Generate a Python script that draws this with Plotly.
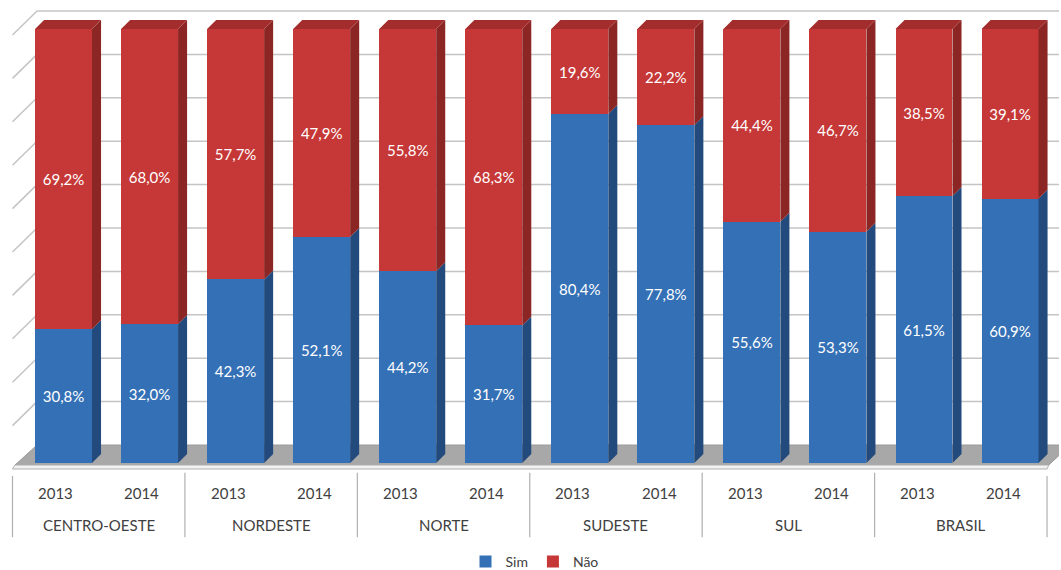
import plotly.graph_objects as go

regions = ["CENTRO-OESTE", "NORDESTE", "NORTE", "SUDESTE", "SUL", "BRASIL"]
years = ["2013", "2014"]
sim = [30.8, 32.0, 42.3, 52.1, 44.2, 31.7, 80.4, 77.8, 55.6, 53.3, 61.5, 60.9]
nao = [69.2, 68.0, 57.7, 47.9, 55.8, 68.3, 19.6, 22.2, 44.4, 46.7, 38.5, 39.1]
grid_values = list(range(0, 101, 10))

BLUE = "#3470b6"
BLUE_SIDE = "#224a7c"
RED = "#c63837"
RED_SIDE = "#8c2625"
RED_TOP = "#a22d2c"
FONT = "Lato"
TXT = "#404040"

n = len(sim)
xs = list(range(n))
W = 0.662           # bar width (category units)
DX, DY = 0.105, 2.07  # bar depth offsets
WDX, WDY = 0.285, 5.53  # wall depth offsets
XL, XR = -0.593, 11.43  # front box edges
Y0F = -1.38

def fmt(v):
    return f"{v:.1f}".replace(".", ",") + "%"

fig = go.Figure()
fig.add_trace(go.Bar(x=xs, y=sim, width=W, name="Sim", marker=dict(color=BLUE, line=dict(width=0)),
                     text=[fmt(v) for v in sim], textposition="inside", insidetextanchor="middle",
                     textangle=0, constraintext="none",
                     textfont=dict(color="white", size=15, family=FONT)))
fig.add_trace(go.Bar(x=xs, y=nao, width=W, name="Não", marker=dict(color=RED, line=dict(width=0)),
                     text=[fmt(v) for v in nao], textposition="inside", insidetextanchor="middle",
                     textangle=0, constraintext="none",
                     textfont=dict(color="white", size=15, family=FONT)))

shapes = []
# floor
shapes.append(dict(type="path", xref="x", yref="y", layer="below",
                   path=f"M {XL+0.03},-0.46 L {XL+WDX},{WDY-1.38} L 11.7,{WDY-1.38} L {XR+0.02},-0.46 Z",
                   fillcolor="#a8a8a8", line=dict(color="#9a9a9a", width=1)))
shapes.append(dict(type="path", xref="x", yref="y", layer="below",
                   path=f"M {XL},{Y0F} L {XL+0.03},-0.46 L {XR+0.02},-0.46 L {XR},{Y0F} Z",
                   fillcolor="#f2f2f2", line=dict(color="#b0b0b0", width=1)))
# gridlines (left wall + back wall)
for v in grid_values:
    if v == 0:
        continue
    yf = v + Y0F
    yb = yf + WDY
    shapes.append(dict(type="line", xref="x", yref="y", layer="below",
                       x0=XL, y0=yf, x1=XL + WDX, y1=yb, line=dict(color="#c4c4c4", width=1.5)))
    shapes.append(dict(type="line", xref="x", yref="y", layer="below",
                       x0=XL + WDX, y0=yb, x1=11.7, y1=yb, line=dict(color="#c4c4c4", width=1.5)))
# 3D side/top faces of bars
for i in xs:
    xr = i + W / 2
    xl = i - W / 2
    s = sim[i]
    t = sim[i] + nao[i]
    shapes.append(dict(type="path", xref="x", yref="y", layer="above",
                       path=f"M {xr},0 L {xr+DX},{DY} L {xr+DX},{s+DY} L {xr},{s} Z",
                       fillcolor=BLUE_SIDE, line=dict(width=0)))
    shapes.append(dict(type="path", xref="x", yref="y", layer="above",
                       path=f"M {xr},{s} L {xr+DX},{s+DY} L {xr+DX},{t+DY} L {xr},{t} Z",
                       fillcolor=RED_SIDE, line=dict(width=0)))
    shapes.append(dict(type="path", xref="x", yref="y", layer="above",
                       path=f"M {xl},{t} L {xl+DX},{t+DY} L {xr+DX},{t+DY} L {xr},{t} Z",
                       fillcolor=RED_TOP, line=dict(width=0)))

# category box below the plot
ybox_bot = -0.146
gw = (XR - XL) / len(regions)
for k in range(len(regions) + 1):
    xk = XL + k * gw
    shapes.append(dict(type="line", xref="x", yref="paper", x0=xk, x1=xk,
                       y0=(-0.013 if k in (0, len(regions)) else -0.006), y1=ybox_bot,
                       line=dict(color="#b0b0b0", width=1.2)))

annotations = []
for k, r in enumerate(regions):
    gl = XL + k * gw
    annotations.append(dict(x=gl + gw / 2, y=-0.1196, xref="x", yref="paper", text=r,
                            xanchor="center", yanchor="middle",
                            showarrow=False, font=dict(size=15, family=FONT, color=TXT)))
    for j, yv in enumerate(years):
        annotations.append(dict(x=gl + gw * (0.25 + 0.5 * j), y=-0.05, xref="x", yref="paper",
                                text=yv, xanchor="center", yanchor="middle",
                                showarrow=False, font=dict(size=15, family=FONT, color=TXT)))

fig.update_layout(
    width=1061, height=570,
    margin=dict(l=10, r=2, t=10, b=100, autoexpand=False),
    barmode="stack",
    plot_bgcolor="white", paper_bgcolor="white",
    xaxis=dict(visible=False, range=[-0.622, 11.569], fixedrange=True),
    yaxis=dict(visible=False, range=[-1.61, 104.38], fixedrange=True),
    shapes=shapes, annotations=annotations,
    showlegend=True,
    legend=dict(orientation="h", x=0.5, xanchor="center", y=-0.2, yanchor="middle",
                font=dict(size=14, family=FONT, color=TXT), itemwidth=30,
                traceorder="normal"),
    font=dict(family=FONT),
)

fig.write_html("out.html")
